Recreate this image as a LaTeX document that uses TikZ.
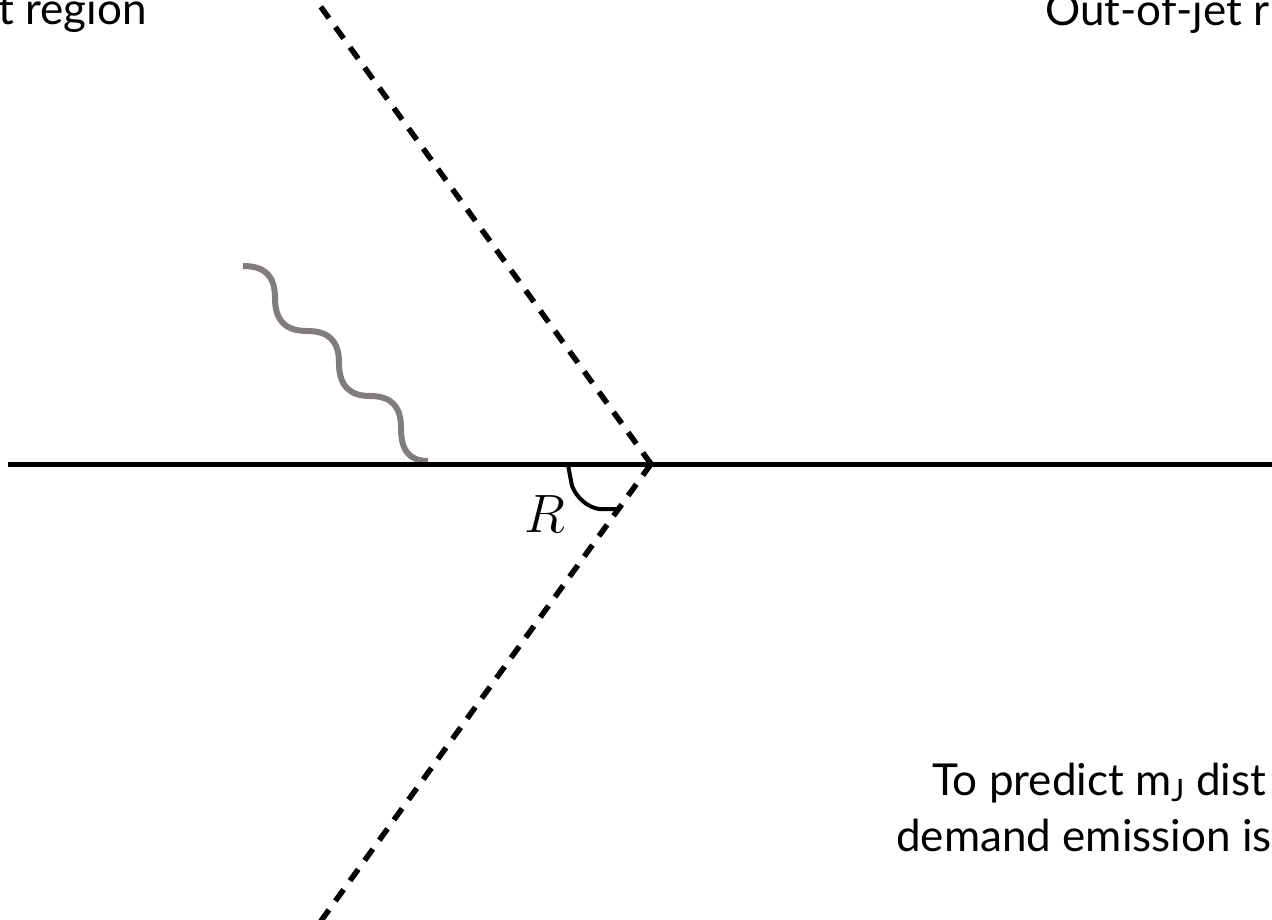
\RequirePackage{fix-cm}
\documentclass[tikz,border=0pt]{standalone}
\usepackage{fontspec}
\setmainfont{Lato}
\definecolor{gluongray}{RGB}{130,124,127}
\begin{document}
\begin{tikzpicture}[x=1pt,y=-1pt,
  mainline/.style={line width=5pt},
  jetedge/.style={line width=5.5pt, dash pattern=on 14pt off 11pt},
  gluon/.style={line width=6pt, draw=gluongray},
  anglemark/.style={line width=4pt, line join=round},
  toplabel/.style={inner sep=0pt, font=\fontsize{44}{53}\selectfont},
  note/.style={inner sep=0pt, font=\fontsize{44}{53}\selectfont},
  anglelabel/.style={inner sep=0pt, font=\fontsize{54}{60}\selectfont}]
\useasboundingbox (0,0) rectangle (1272,920);
\clip (0,0) rectangle (1272,920);
\coordinate (apex) at (651,464);
\coordinate (lineL) at (8,464);
\coordinate (lineR) at (1285,464);
\coordinate (edgeT) at (318,3);
\coordinate (edgeB) at (318,925);
\coordinate (gluonStart) at (243,266);
\coordinate (gluonEnd) at (428,461);
% gluon
\draw[gluon] (gluonStart) .. controls (265,266) and (275,276) .. (275,298)
  .. controls (275,320) and (285,331) .. (307,331)
  .. controls (329,331) and (339,341) .. (339,363)
  .. controls (339,385) and (349,396) .. (370,396)
  .. controls (391,396) and (401,406) .. (401,428)
  .. controls (401,450) and (409,461) .. (gluonEnd);
% jet axis
\draw[mainline] (lineL) -- (lineR);
% jet boundary
\draw[jetedge] (apex) -- (edgeT);
\draw[jetedge] (apex) -- (edgeB);
% angle mark
\draw[anglemark] (568,465) -- (572,486) .. controls (577,498) and (587,507) .. (599,509) -- (618,509);
\node[anglelabel] (rlab) at (545,514) {$R$};
% labels
\node[toplabel, anchor=base east] (injet) at (147,25) {t region};
\node[toplabel, anchor=base west] (outjet) at (1045,26) {Out-of-jet r};
\node[note, anchor=base west] (note1) at (932,795) {To predict m\textsubscript{J} dist};
\node[note, anchor=base west] (note2) at (896,851) {demand emission is};
\end{tikzpicture}
\end{document}
